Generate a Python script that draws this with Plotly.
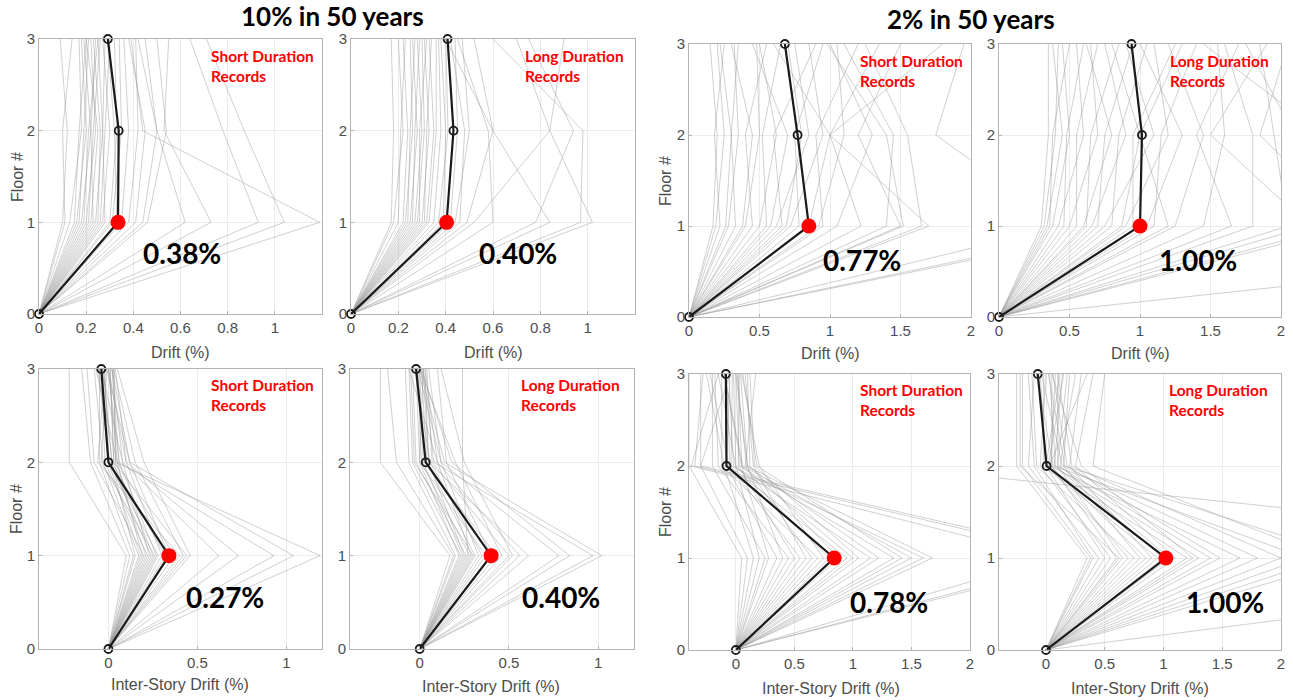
import plotly.graph_objects as go

W, H = 1293, 700
floors = [0, 1, 2, 3]

# ---------------- data (drift values in %, per floor 1,2,3; floor 0 = 0) ----------------
# Panel 1: 10% in 50 yrs, short duration, drift
p1_f1 = [0.10,0.11,0.13,0.15,0.16,0.17,0.18,0.19,0.20,0.21,0.22,0.23,0.24,0.25,0.26,0.27,0.28,0.30,0.31,0.33,0.35,0.38,0.41,0.44,0.46,0.62,0.73,0.93,1.04,1.19]
p1_f2 = [0.12,0.10,0.18,0.17,0.20,0.19,0.22,0.21,0.24,0.23,0.25,0.22,0.27,0.26,0.28,0.30,0.27,0.33,0.35,0.32,0.38,0.42,0.45,0.50,0.54,0.50,0.53,0.78,0.87,0.44]
p1_f3 = [0.09,0.14,0.17,0.20,0.18,0.21,0.19,0.25,0.22,0.26,0.20,0.24,0.28,0.23,0.30,0.27,0.25,0.32,0.34,0.29,0.36,0.41,0.38,0.42,0.50,0.45,0.55,0.64,0.71,0.39]
p1_mean = [0, 0.335, 0.338, 0.292]

# Panel 2: 10% in 50 yrs, long duration, drift
p2_f1 = [0.17,0.18,0.20,0.22,0.23,0.24,0.25,0.26,0.27,0.28,0.29,0.30,0.31,0.32,0.33,0.35,0.37,0.39,0.42,0.44,0.46,0.49,0.52,0.60,0.78,0.84,0.97,1.02]
p2_f2 = [0.18,0.22,0.21,0.24,0.26,0.25,0.28,0.27,0.30,0.31,0.29,0.33,0.32,0.35,0.36,0.38,0.41,0.40,0.45,0.50,0.48,0.60,0.84,0.58,0.94,0.60,0.98,0.84]
p2_f3 = [0.17,0.20,0.23,0.22,0.25,0.27,0.26,0.29,0.28,0.30,0.32,0.31,0.34,0.33,0.36,0.37,0.40,0.38,0.44,0.47,0.42,0.52,0.70,0.45,0.75,0.40,0.60,0.90]
p2_mean = [0, 0.404, 0.433, 0.408]

# Panel 3: 2% in 50 yrs, short duration, drift
p3_f1 = [0.17,0.19,0.22,0.26,0.28,0.33,0.38,0.40,0.45,0.50,0.55,0.58,0.62,0.66,0.69,0.72,0.78,0.85,0.92,0.95,1.05,1.22,1.40,1.50,1.52,1.65,1.70,2.65,3.10,3.20]
p3_f2 = [0.20,0.25,0.18,0.30,0.35,0.30,0.45,0.50,0.40,0.62,0.52,0.70,0.85,0.60,0.80,0.95,0.75,1.00,1.10,0.90,1.30,1.00,1.45,1.20,1.40,1.55,1.00,1.75,2.10,2.40]
p3_f3 = [0.15,0.20,0.25,0.22,0.32,0.35,0.30,0.48,0.55,0.50,0.65,0.45,0.75,0.90,0.70,0.85,0.95,0.60,1.05,1.20,1.00,1.35,1.10,1.50,0.98,1.25,1.80,1.95,2.30,2.80]
p3_mean = [0, 0.85, 0.77, 0.68]

# Panel 4: 2% in 50 yrs, long duration, drift
p4_f1 = [0.30,0.32,0.34,0.36,0.38,0.42,0.46,0.50,0.55,0.60,0.62,0.66,0.70,0.75,0.80,0.87,0.90,0.95,1.05,1.10,1.20,1.25,1.45,1.65,1.80,2.05,2.20,2.40,2.50,6.00]
p4_f2 = [0.35,0.40,0.45,0.38,0.50,0.60,0.48,0.70,0.55,0.80,0.65,0.90,0.75,1.10,0.85,1.00,1.20,0.95,1.30,1.15,1.00,1.45,1.60,1.40,1.80,1.95,1.50,2.10,1.85,2.30]
p4_f3 = [0.35,0.42,0.38,0.50,0.45,0.55,0.60,0.65,0.70,0.62,0.85,0.75,0.95,0.90,1.05,0.80,1.10,1.25,1.00,1.40,1.30,1.20,1.55,1.70,1.60,1.85,1.90,1.75,2.05,1.45]
p4_mean = [0, 1.00, 1.014, 0.94]

# Panel 5: 10% in 50 yrs, short duration, inter-story drift
p5_f1 = [0.10,0.12,0.14,0.15,0.17,0.18,0.19,0.20,0.21,0.22,0.23,0.24,0.25,0.26,0.27,0.28,0.30,0.32,0.34,0.37,0.40,0.42,0.44,0.46,0.62,0.73,0.93,1.04,1.19]
p5_f2 = [-0.22,-0.10,-0.05,0.02,-0.03,0.00,0.05,-0.08,0.03,-0.02,0.08,0.01,0.04,-0.04,0.06,0.00,0.10,0.02,0.12,0.05,-0.06,0.15,0.03,0.20,0.08,0.10,0.06,0.12,0.04]
p5_f3 = [-0.22,-0.15,-0.05,-0.03,-0.08,-0.02,0.00,-0.12,0.01,-0.04,0.02,-0.06,0.03,-0.01,0.00,-0.05,0.04,-0.03,0.02,-0.07,-0.02,0.03,0.01,0.05,-0.04,0.00,0.02,-0.01,0.03]
p5_mean = [0, 0.34, 0.0, -0.04]

# Panel 6: 10% in 50 yrs, long duration, inter-story drift
p6_f1 = [0.17,0.19,0.20,0.22,0.23,0.24,0.25,0.26,0.27,0.28,0.29,0.30,0.31,0.33,0.35,0.37,0.40,0.43,0.46,0.50,0.52,0.56,0.61,0.78,0.84,0.97,1.02]
p6_f2 = [-0.22,-0.13,-0.06,0.00,-0.04,0.02,0.05,-0.02,0.24,0.01,0.10,-0.03,0.04,0.12,0.06,0.00,0.15,0.03,0.20,0.07,0.25,0.10,0.05,0.12,0.18,0.08,0.14]
p6_f3 = [-0.22,-0.18,-0.08,-0.02,-0.06,0.00,0.02,-0.04,0.24,-0.01,0.03,-0.05,0.01,0.05,-0.03,0.02,0.10,-0.02,0.00,0.04,0.12,-0.06,0.03,-0.01,0.01,0.02,0.00]
p6_mean = [0, 0.40, 0.034, -0.02]

# Panel 7: 2% in 50 yrs, short duration, inter-story drift
p7_f1 = [0.05,0.10,0.15,0.20,0.25,0.28,0.35,0.40,0.45,0.50,0.55,0.60,0.65,0.70,0.75,0.80,0.88,0.95,1.00,1.05,1.15,1.22,1.35,1.42,1.50,1.60,1.68,2.70,3.00,3.10]
p7_f2 = [-0.40,-0.30,-0.10,0.00,-0.20,0.05,-0.08,0.10,-0.15,0.02,-0.05,0.15,0.08,-0.12,0.20,0.00,0.12,-0.06,0.05,0.16,-0.02,0.10,0.03,0.18,0.06,-0.04,0.09,-0.38,-0.35,-0.30]
p7_f3 = [-0.40,-0.30,-0.25,-0.15,-0.20,-0.10,-0.05,0.00,-0.18,0.03,-0.08,0.08,0.17,-0.12,0.05,-0.02,0.10,-0.22,0.02,0.12,-0.06,0.04,0.00,0.06,-0.10,-0.03,0.01,-0.15,-0.28,-0.05]
p7_mean = [0, 0.84, -0.08, -0.085]

# Panel 8: 2% in 50 yrs, long duration, inter-story drift
p8_f1 = [0.35,0.38,0.40,0.45,0.50,0.55,0.60,0.62,0.65,0.70,0.75,0.80,0.85,0.90,0.95,1.00,1.05,1.10,1.20,1.25,1.30,1.40,1.48,1.65,1.80,2.00,2.20,2.40,2.60,6.10]
p8_f2 = [-0.25,-0.20,-0.10,-0.15,0.00,-0.05,0.05,-0.22,0.10,0.02,-0.08,0.15,0.04,0.20,-0.02,0.08,0.12,0.25,0.00,0.30,0.06,0.10,0.18,0.03,0.14,0.22,0.07,0.40,0.16,-1.38]
p8_f3 = [-0.25,-0.20,-0.15,-0.10,-0.05,0.00,0.05,-0.22,0.10,0.15,-0.12,0.20,0.08,0.30,-0.02,0.03,0.25,0.40,0.12,0.05,-0.08,0.18,0.06,0.35,-0.04,0.10,0.14,0.50,0.02,-1.00]
p8_mean = [0, 1.02, 0.005, -0.07]

pct_labels = ["0.38%", "0.40%", "0.77%", "1.00%", "0.27%", "0.40%", "0.78%", "1.00%"]
record_labels = ["Short Duration<br>Records", "Long Duration<br>Records"] * 4
titles = ["10% in 50 years", "2% in 50 years"]

top_ticks_10 = [0, 0.2, 0.4, 0.6, 0.8, 1]
top_ticks_2 = [0, 0.5, 1, 1.5, 2]
bot_ticks_10 = [0, 0.5, 1]
bot_ticks_2 = [0, 0.5, 1, 1.5, 2]
y_ticks = [0, 1, 2, 3]

# ---------------- layout geometry (pixels) ----------------
panels = [
    dict(box=(39, 322, 39, 314), xr=[0, 1.2], ticks=top_ticks_10, data=(p1_f1, p1_f2, p1_f3), mean=p1_mean),
    dict(box=(351, 635, 39, 314), xr=[0, 1.2], ticks=top_ticks_10, data=(p2_f1, p2_f2, p2_f3), mean=p2_mean),
    dict(box=(689, 971, 44, 317), xr=[0, 2], ticks=top_ticks_2, data=(p3_f1, p3_f2, p3_f3), mean=p3_mean),
    dict(box=(999, 1281, 44, 317), xr=[0, 2], ticks=top_ticks_2, data=(p4_f1, p4_f2, p4_f3), mean=p4_mean),
    dict(box=(39, 322, 369, 649), xr=[-0.39, 1.2], ticks=bot_ticks_10, data=(p5_f1, p5_f2, p5_f3), mean=p5_mean),
    dict(box=(350, 634, 369, 649), xr=[-0.39, 1.2], ticks=bot_ticks_10, data=(p6_f1, p6_f2, p6_f3), mean=p6_mean),
    dict(box=(689, 970, 374, 650), xr=[-0.4, 2], ticks=bot_ticks_2, data=(p7_f1, p7_f2, p7_f3), mean=p7_mean),
    dict(box=(999, 1281, 374, 650), xr=[-0.4, 2], ticks=bot_ticks_2, data=(p8_f1, p8_f2, p8_f3), mean=p8_mean),
]
rec_pos = [(209, 56), (523, 56), (858, 61), (1168, 61), (209, 385), (519, 385), (858, 390), (1167, 390)]
pct_pos = [(182, 253), (518, 253), (862, 260), (1198, 260), (225, 597), (561, 597), (889, 602), (1225, 602)]
title_pos = [(333, 16), (971, 19)]
xtitle_pos = [(180, 352), (493, 352), (830, 354), (1140, 354), (180, 684), (491, 686), (831, 688), (1140, 688)]
ytitle_pos = [(17, 177), (665, 181), (17, 509), (665, 512)]
xtitles = ["Drift (%)"] * 4 + ["Inter-Story Drift (%)"] * 4

def fmt(v):
    return str(int(v)) if float(v).is_integer() else ("%g" % v)

fig = go.Figure()
layout = dict(
    width=W, height=H, margin=dict(l=0, r=0, t=0, b=0, autoexpand=False),
    paper_bgcolor="white", plot_bgcolor="white", showlegend=False,
    annotations=[],
)
tick_font = dict(family="Liberation Sans, Arial", size=15, color="#4d4d4d")
lab_font = dict(family="Liberation Sans, Arial", size=16, color="#4d4d4d")

for i, p in enumerate(panels):
    n = i + 1
    xa = "x" if n == 1 else "x%d" % n
    ya = "y" if n == 1 else "y%d" % n
    x0, x1, y0, y1 = p["box"]
    f1, f2, f3 = p["data"]
    xs, ys = [], []
    for a, b, c in zip(f1, f2, f3):
        xs += [0, a, b, c, None]
        ys += floors + [None]
    fig.add_trace(go.Scatter(x=xs, y=ys, mode="lines", xaxis=xa, yaxis=ya,
                             line=dict(color="rgba(150,150,150,0.45)", width=1), hoverinfo="skip"))
    fig.add_trace(go.Scatter(x=p["mean"], y=floors, mode="lines+markers", xaxis=xa, yaxis=ya,
                             line=dict(color="#1a1a1a", width=2.2),
                             marker=dict(symbol="circle-open", size=8, color="#1a1a1a", line=dict(width=1.8)),
                             cliponaxis=False))
    fig.add_trace(go.Scatter(x=[p["mean"][1]], y=[floors[1]], mode="markers", xaxis=xa, yaxis=ya,
                             marker=dict(color="#ff0000", size=15), cliponaxis=False))
    axcommon = dict(showline=True, mirror=True, linecolor="#b3b3b3", linewidth=1,
                    showgrid=True, gridcolor="#ececec", gridwidth=1, zeroline=False,
                    ticks="inside", ticklen=3, tickcolor="#b3b3b3", tickfont=tick_font)
    layout["xaxis" if n == 1 else "xaxis%d" % n] = dict(
        domain=[x0 / W, x1 / W], range=p["xr"], anchor=ya,
        tickvals=p["ticks"], ticktext=[fmt(t) for t in p["ticks"]], **axcommon)
    layout["yaxis" if n == 1 else "yaxis%d" % n] = dict(
        domain=[1 - y1 / H, 1 - y0 / H], range=[0, 3], anchor=xa,
        tickvals=y_ticks, ticktext=[str(t) for t in y_ticks], **axcommon)

    rx, ry = rec_pos[i]
    layout["annotations"].append(dict(
        text=record_labels[i], x=rx / W, y=1 - (ry + 10) / H, xref="paper", yref="paper",
        xanchor="left", yanchor="middle", align="left", showarrow=False,
        font=dict(family="Lato, Open Sans", size=15.5, color="#ff0000", weight="bold")))
    px, py = pct_pos[i]
    layout["annotations"].append(dict(
        text="<b>%s</b>" % pct_labels[i], x=px / W, y=1 - py / H, xref="paper", yref="paper",
        xanchor="center", yanchor="middle", showarrow=False,
        font=dict(family="Lato, Open Sans", size=28, color="#000000")))
    tx, ty = xtitle_pos[i]
    layout["annotations"].append(dict(
        text=xtitles[i], x=tx / W, y=1 - ty / H, xref="paper", yref="paper",
        xanchor="center", yanchor="middle", showarrow=False, font=lab_font))

for (tx, ty) in ytitle_pos:
    layout["annotations"].append(dict(
        text="Floor #", x=tx / W, y=1 - ty / H, xref="paper", yref="paper",
        xanchor="center", yanchor="middle", textangle=-90, showarrow=False, font=lab_font))

for t, (tx, ty) in zip(titles, title_pos):
    layout["annotations"].append(dict(
        text="<b>%s</b>" % t, x=tx / W, y=1 - ty / H, xref="paper", yref="paper",
        xanchor="center", yanchor="middle", showarrow=False,
        font=dict(family="Lato, Open Sans", size=26, color="#000000")))

fig.update_layout(**layout)
fig.write_html("out.html", config={"displayModeBar": False},
               post_script="document.body.style.margin='0';document.body.style.overflow='hidden';")
